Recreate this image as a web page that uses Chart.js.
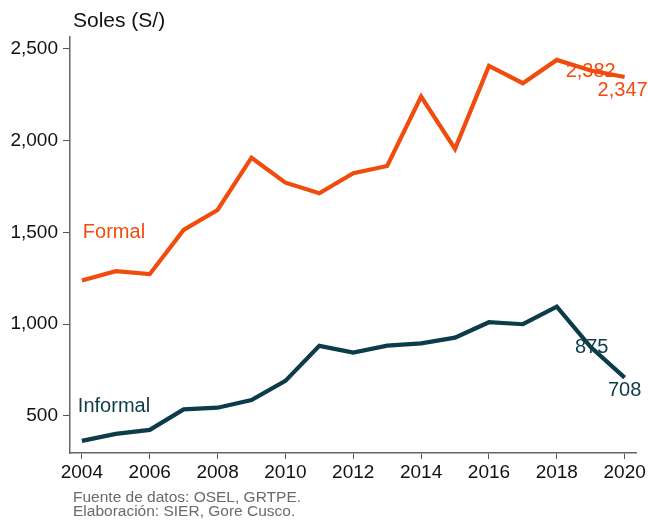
<!DOCTYPE html>
<html>
<head>
<meta charset="utf-8">
<script src="https://cdn.jsdelivr.net/npm/chart.js@4.4.1/dist/chart.umd.min.js"></script>
<style>
  html, body { margin: 0; padding: 0; background: #fff; }
  #wrap { position: relative; width: 648px; height: 522px; }
</style>
</head>
<body>
<div id="wrap"><canvas id="grafico" width="648" height="522"></canvas></div>
<script>
// datos
const years = [2004, 2005, 2006, 2007, 2008, 2009, 2010, 2011, 2012, 2013, 2014, 2015, 2016, 2017, 2018, 2019, 2020];
const formal = [1237, 1288, 1272, 1513, 1622, 1907, 1771, 1713, 1822, 1862, 2240, 1955, 2407, 2313, 2440, 2382, 2347];
const informal = [363, 401, 423, 535, 544, 586, 690, 881, 844, 882, 895, 926, 1010, 999, 1095, 875, 708];
const xTicks = [2004, 2006, 2008, 2010, 2012, 2014, 2016, 2018, 2020];
const yTicks = [500, 1000, 1500, 2000, 2500];

const ORANGE = "#ef4c0e";
const TEAL = "#0c3b4a";
const FONT = "'Liberation Sans', Arial, sans-serif";

const fmt = (v) => v.toLocaleString("en-US");

// etiquetas de texto dentro del grafico
const textos = {
  id: "textos",
  afterDatasetsDraw(chart) {
    const { ctx, scales: { x, y } } = chart;
    ctx.save();
    ctx.textBaseline = "middle";
    ctx.font = "20px " + FONT;

    // nombres de series
    ctx.textAlign = "left";
    ctx.fillStyle = ORANGE;
    ctx.fillText("Formal", x.getPixelForValue(years[0]) + 1, y.getPixelForValue(1500));
    ctx.fillStyle = TEAL;
    ctx.fillText("Informal", x.getPixelForValue(years[0]) - 4, y.getPixelForValue(550));

    // valores finales
    ctx.textAlign = "center";
    const n = years.length;
    ctx.fillStyle = ORANGE;
    ctx.fillText(fmt(formal[n - 2]), x.getPixelForValue(years[n - 2]), y.getPixelForValue(formal[n - 2]) + 1);
    ctx.fillText(fmt(formal[n - 1]), x.getPixelForValue(years[n - 1]) - 2, y.getPixelForValue(formal[n - 1]) + 13);
    ctx.fillStyle = TEAL;
    ctx.fillText(fmt(informal[n - 2]), x.getPixelForValue(years[n - 2]) + 1, y.getPixelForValue(informal[n - 2]) + 1);
    ctx.fillText(fmt(informal[n - 1]), x.getPixelForValue(years[n - 1]), y.getPixelForValue(informal[n - 1]) + 13);

    // titulo del eje y nota
    ctx.textAlign = "left";
    ctx.fillStyle = "#111";
    ctx.font = "21px " + FONT;
    ctx.fillText("Soles (S/)", 73, 21);
    ctx.fillStyle = "#6a6a6a";
    ctx.font = "15.5px " + FONT;
    ctx.fillText("Fuente de datos: OSEL, GRTPE.", 73, 498);
    ctx.fillText("Elaboración: SIER, Gore Cusco.", 73, 511.5);
    ctx.restore();
  },
};

new Chart(document.getElementById("grafico"), {
  type: "line",
  data: {
    labels: years,
    datasets: [
      {
        label: "Formal",
        data: years.map((yr, i) => ({ x: yr, y: formal[i] })),
        borderColor: ORANGE,
        borderWidth: 4.2,
        pointRadius: 0,
        tension: 0,
      },
      {
        label: "Informal",
        data: years.map((yr, i) => ({ x: yr, y: informal[i] })),
        borderColor: TEAL,
        borderWidth: 4.2,
        pointRadius: 0,
        tension: 0,
      },
    ],
  },
  options: {
    responsive: false,
    animation: false,
    layout: { padding: { top: 37, right: 11, left: 0, bottom: 0 } },
    plugins: { legend: { display: false }, tooltip: { enabled: false } },
    scales: {
      x: {
        type: "linear",
        min: 2003.65,
        max: 2020.35,
        afterBuildTicks: (s) => { s.ticks = xTicks.map((v) => ({ value: v })); },
        afterFit: (s) => { s.height = 69; },
        grid: { display: true, drawOnChartArea: false, drawTicks: true, tickLength: 6, color: "#555", lineWidth: 1 },
        border: { color: "#666", width: 1.5 },
        ticks: { color: "#111", font: { size: 19, family: FONT }, padding: 2, callback: (v) => String(v), maxRotation: 0 },
      },
      y: {
        min: 297,
        max: 2565,
        afterBuildTicks: (s) => { s.ticks = yTicks.map((v) => ({ value: v })); },
        afterFit: (s) => { s.width = 70; },
        grid: { display: true, drawOnChartArea: false, drawTicks: true, tickLength: 7, color: "#555", lineWidth: 1 },
        border: { color: "#666", width: 1.5 },
        ticks: { color: "#111", font: { size: 19, family: FONT }, padding: 5, callback: (v) => fmt(v) },
      },
    },
  },
  plugins: [textos],
});
</script>
</body>
</html>
